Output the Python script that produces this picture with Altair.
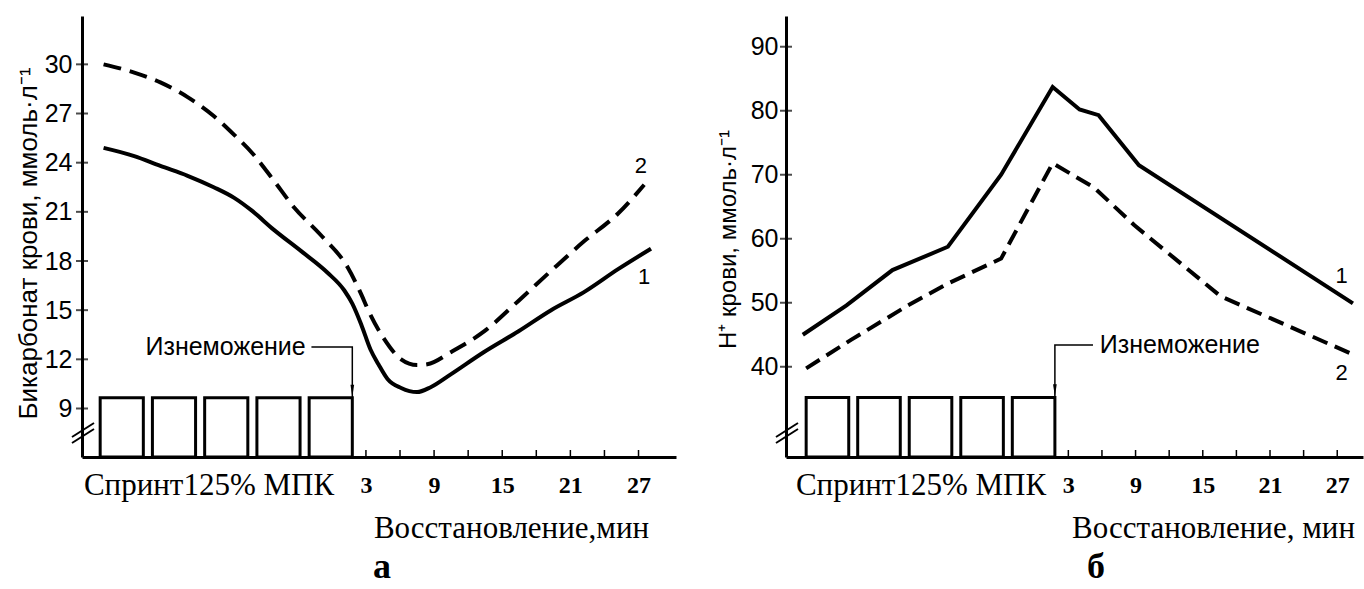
import altair as alt
import pandas as pd

# ---------------- data ----------------
# x is expressed in minutes of recovery; the exercise bouts sit left of 0
bout_start = [-20.4, -15.8, -11.2, -6.6, -2.0]
bout_end = [-16.6, -12.0, -7.4, -2.8, 1.8]

x_tick_values = [3, 6, 9, 12, 15, 18, 21, 24, 27]
x_label_values = [3, 9, 15, 21, 27]

# Panel а: bicarbonate
a_y_ticks = [9, 12, 15, 18, 21, 24, 27, 30]
a_bout_top = 9.65
a_solid_x = [-20.1, -17.4, -15.1, -12.7, -10.4, -8.6, -7.1, -5.1, -2.7, -0.4, 1.1, 1.8,
             2.6, 3.4, 4.1, 4.9, 6.1, 7.5, 8.7, 10.5, 13.4, 16.4, 19.3, 22.2, 25.2, 28.1]
a_solid_y = [24.9, 24.4, 23.8, 23.2, 22.5, 21.85, 21.1, 19.9, 18.6, 17.3, 16.2, 15.4,
             14.1, 12.6, 11.7, 10.8, 10.25, 10.0, 10.3, 11.1, 12.45, 13.7, 15.0, 16.1, 17.5, 18.75]
a_dash_x = [-20.1, -17.4, -15.1, -12.7, -10.4, -8.6, -6.9, -5.1, -3.3, -1.0, 1.4, 2.6,
            3.2, 4.6, 6.1, 7.5, 8.4, 10.5, 13.4, 16.4, 19.3, 22.2, 25.2, 27.5]
a_dash_y = [30.0, 29.5, 28.9, 28.0, 26.85, 25.7, 24.5, 22.9, 21.25, 19.6, 17.6, 15.95,
            15.0, 13.25, 12.0, 11.65, 11.7, 12.45, 13.7, 15.55, 17.4, 19.2, 20.9, 22.65]

# Panel б: H+
b_y_ticks = [40, 50, 60, 70, 80, 90]
b_bout_top = 35.2
b_solid_x = [-20.7, -16.8, -12.7, -7.75, -3.0, 1.6, 4.0, 5.7, 9.3, 28.4]
b_solid_y = [45.0, 49.6, 55.1, 58.75, 70.0, 83.7, 80.2, 79.3, 71.5, 49.9]
b_dash_x = [-20.4, -16.4, -11.3, -7.75, -3.0, 1.6, 5.3, 8.9, 16.6, 28.3]
b_dash_y = [39.75, 44.2, 49.6, 53.0, 56.9, 71.8, 68.0, 62.1, 51.0, 42.0]

SANS = "Liberation Sans"
SERIF = "Liberation Serif"
H = 441
W_A, W_B = 594, 577
ARROW = "M-0.3,-1L0.3,-1L0,1Z"


def panel(width, xdom, ydom, yticks, bout_top, sx, sy, dx, dy, dash, ytitle, ytitle_x,
          ytitle_y, ytitle_size, label_pad, xtitle, xtitle_x, sprint_x, letter, letter_x,
          exh_y, exh_text_x, exh_line_x, exh_align, lab1, lab2):
    xs = alt.Scale(domain=xdom, nice=False, zero=False)
    ys = alt.Scale(domain=ydom, nice=False, zero=False)
    xax = alt.Axis(
        values=x_label_values, ticks=False, grid=False, domain=True,
        domainWidth=3, domainColor="black", labelFont=SERIF, labelFontWeight="bold",
        labelFontSize=24, labelPadding=16, labelColor="black", labelOverlap=False,
        labelFlush=False,
        title=xtitle, titleFont=SERIF, titleFontSize=31, titleFontWeight="normal",
        titleX=xtitle_x, titleY=80, titleAlign="center", titleBaseline="alphabetic",
        titleColor="black")
    yax = alt.Axis(
        values=yticks, ticks=False, grid=False, domain=True, domainWidth=3,
        domainColor="black", labelFont=SANS, labelFontSize=25, labelPadding=label_pad,
        labelColor="black", labelOverlap=False, labelFlush=False,
        title=ytitle, titleFont=SANS, titleFontSize=ytitle_size, titleFontWeight="normal",
        titleX=ytitle_x, titleY=ytitle_y, titleAngle=270, titleAlign="center",
        titleBaseline="middle", titleColor="black")

    def X(f):
        return alt.X(f, scale=xs, axis=xax)

    def Y(f):
        return alt.Y(f, scale=ys, axis=yax)

    one = pd.DataFrame({"k": [0]})
    interp = "monotone" if letter == "а" else "linear"

    solid = alt.Chart(pd.DataFrame({"x": sx, "y": sy})).mark_line(
        color="black", strokeWidth=4, interpolate=interp,
        strokeCap="butt", strokeJoin="miter"
    ).encode(x=X("x:Q"), y=Y("y:Q"))
    dashed = alt.Chart(pd.DataFrame({"x": dx, "y": dy})).mark_line(
        color="black", strokeWidth=4, strokeDash=dash, interpolate=interp, strokeCap="butt"
    ).encode(x=X("x:Q"), y=Y("y:Q"))

    bouts = alt.Chart(pd.DataFrame({"x": bout_start, "e": bout_end, "y": [bout_top] * 5})).mark_rect(
        fill="white", stroke="black", strokeWidth=3
    ).encode(x=X("x:Q"), x2="e:Q", y=Y("y:Q"), y2=alt.value(H))

    yt = alt.Chart(pd.DataFrame({"y": yticks})).mark_tick(
        orient="horizontal", size=12, thickness=2, color="black"
    ).encode(y=Y("y:Q"), x=alt.value(0))

    xt = alt.Chart(pd.DataFrame({"x": x_tick_values})).mark_rule(
        color="black", strokeWidth=1.5
    ).encode(x=X("x:Q"), y=alt.value(H), y2=alt.value(H - 7))

    brk1 = alt.Chart(one).mark_rule(color="black", strokeWidth=2).encode(
        x=alt.value(-10), x2=alt.value(12), y=alt.value(427), y2=alt.value(413))
    brk2 = alt.Chart(one).mark_rule(color="black", strokeWidth=2).encode(
        x=alt.value(-10), x2=alt.value(12), y=alt.value(421), y2=alt.value(407))

    sprint = alt.Chart(one).mark_text(
        text="Спринт125% МПК", font=SERIF, fontSize=31, color="black",
        align="center", baseline="alphabetic"
    ).encode(x=alt.value(sprint_x), y=alt.value(479))

    letter_t = alt.Chart(one).mark_text(
        text=letter, font=SERIF, fontSize=36, fontWeight="bold", color="black",
        align="center", baseline="alphabetic"
    ).encode(x=alt.value(letter_x), y=alt.value(562))

    # exhaustion annotation
    exh_txt = alt.Chart(pd.DataFrame({"x": [exh_text_x], "y": [exh_y]})).mark_text(
        text="Изнеможение", font=SANS, fontSize=25, color="black",
        align=exh_align, baseline="middle"
    ).encode(x=X("x:Q"), y=Y("y:Q"))
    lead = alt.Chart(pd.DataFrame({
        "x": [exh_line_x, bout_end[-1], bout_end[-1]],
        "y": [exh_y, exh_y, bout_top],
        "o": [0, 1, 2]})).mark_line(color="black", strokeWidth=1.5).encode(
        x=X("x:Q"), y=Y("y:Q"), order="o:Q")
    arrow = alt.Chart(pd.DataFrame({"x": [bout_end[-1]], "y": [bout_top]})).mark_point(
        shape=ARROW, filled=True, size=150, color="black", opacity=1, yOffset=-7
    ).encode(x=X("x:Q"), y=Y("y:Q"))

    labs = alt.Chart(pd.DataFrame({"x": [lab1[0], lab2[0]], "y": [lab1[1], lab2[1]],
                                   "t": ["1", "2"]})).mark_text(
        font=SANS, fontSize=22, color="black", align="center", baseline="middle"
    ).encode(x=X("x:Q"), y=Y("y:Q"), text="t:N")

    return alt.layer(bouts, solid, dashed, yt, xt, brk1, brk2, sprint, letter_t,
                     lead, arrow, exh_txt, labs).properties(width=width, height=H)


pa = panel(W_A, [-22.0, 30.3], [6.04, 32.95], a_y_ticks, a_bout_top,
           a_solid_x, a_solid_y, a_dash_x, a_dash_y, [18, 9],
           "Бикарбонат крови, ммоль·л⁻¹", -54, 227, 26, 10,
           "Восстановление,мин", 429, 127, "а", 300,
           12.75, -2.3, -1.8, "right", (27.5, 17.0), (27.2, 23.8))

pb = panel(W_B, [-22.2, 29.3], [25.9, 94.8], b_y_ticks, b_bout_top,
           b_solid_x, b_solid_y, b_dash_x, b_dash_y, [16, 8],
           "H⁺ крови, ммоль·л⁻¹", -58, 223, 24, 8,
           "Восстановление, мин", 427, 135, "б", 310,
           43.4, 5.8, 5.2, "left", (27.4, 54.2), (27.4, 39.0))

chart = alt.hconcat(pa, pb, spacing=110, bounds="flush").properties(
    padding={"left": 14, "top": 15, "right": 0, "bottom": 0},
    background="white",
).configure_view(stroke="transparent")

chart.save("out.html", embed_options={"renderer": "svg", "actions": False})
